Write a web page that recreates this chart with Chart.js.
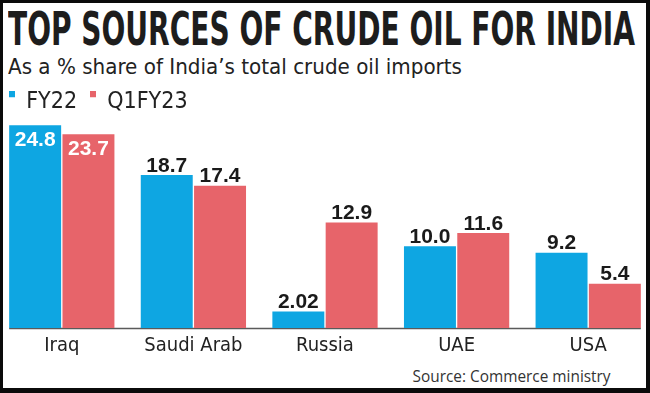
<!DOCTYPE html>
<html>
<head>
<meta charset="utf-8">
<script src="https://cdn.jsdelivr.net/npm/chart.js@4/dist/chart.umd.min.js"></script>
<style>
  html, body { margin: 0; padding: 0; }
  body { width: 650px; height: 393px; background: #0b0b0b; position: relative; overflow: hidden; }
  #panel { position: absolute; left: 3px; top: 3px; width: 643px; height: 385px; background: #ffffff; }
  .txt { position: absolute; white-space: nowrap; line-height: 1; color: #1d1d1d; }
  #title { left: 8px; top: 5.6px; font-family: 'Liberation Sans Narrow', 'DejaVu Sans Condensed', sans-serif; font-weight: bold; font-size: 46.5px; transform-origin: left top; }
  #subtitle { left: 8px; top: 56.4px; font-family: 'Liberation Sans Narrow', 'DejaVu Sans Condensed', sans-serif; font-size: 22px; transform-origin: left top; color: #222; }
  #source { right: 39px; top: 369.2px; font-family: 'Open Sans', 'Noto Sans', sans-serif; font-size: 15.5px; transform-origin: right top; color: #333; }
  #wrap { position: absolute; left: -4px; top: 78px; width: 658px; height: 315px; }
</style>
</head>
<body>
<div id="panel"></div>
<div id="title" class="txt" data-w="627">TOP SOURCES OF CRUDE OIL FOR INDIA</div>
<div id="subtitle" class="txt" data-w="454">As a % share of India’s total crude oil imports</div>
<div id="source" class="txt" data-w="198">Source: Commerce ministry</div>
<div id="wrap"><canvas id="c"></canvas></div>
<script>
// ---- data ----
const categories = ['Iraq', 'Saudi Arab', 'Russia', 'UAE', 'USA'];
const seriesNames = ['FY22', 'Q1FY23'];
const fy22 = [24.8, 18.7, 2.02, 10.0, 9.2];
const q1fy23 = [23.7, 17.4, 12.9, 11.6, 5.4];
const fy22Labels = ['24.8', '18.7', '2.02', '10.0', '9.2'];
const q1fy23Labels = ['23.7', '17.4', '12.9', '11.6', '5.4'];

// ---- styles ----
const BLUE = '#0ea6e2';
const RED = '#e7646a';
const narrow = "'Liberation Sans Narrow', 'DejaVu Sans Condensed', sans-serif";

// fit HTML text widths
document.querySelectorAll('[data-w]').forEach(el => {
  const w = el.getBoundingClientRect().width;
  const target = parseFloat(el.dataset.w);
  el.style.transform = 'scaleX(' + (target / w) + ')';
});

function makeIcon(color) {
  const cv = document.createElement('canvas');
  cv.width = 6; cv.height = 22;
  const c = cv.getContext('2d');
  c.fillStyle = color;
  c.fillRect(0, 0, 6, 6);
  return cv;
}
const icons = [makeIcon(BLUE), makeIcon(RED)];
const valueLabels = [fy22Labels, q1fy23Labels];

const legendHeightPlugin = {
  id: 'legendHeight',
  beforeInit(chart) {
    const lg = chart.legend;
    if (lg && !lg._patched) {
      const orig = lg.fit;
      lg.fit = function () { orig.call(this); this.height = 45.5; };
      lg._patched = true;
    }
  }
};

const valueLabelPlugin = {
  id: 'valueLabels',
  afterDatasetsDraw(chart) {
    const ctx = chart.ctx;
    ctx.save();
    ctx.font = "bold 21px 'Liberation Sans', Arial, sans-serif";
    ctx.textAlign = 'center';
    ctx.textBaseline = 'alphabetic';
    chart.data.datasets.forEach((ds, di) => {
      const meta = chart.getDatasetMeta(di);
      meta.data.forEach((bar, i) => {
        const v = ds.data[i];
        const txt = valueLabels[di][i];
        if (v > 20) {
          ctx.fillStyle = '#ffffff';
          ctx.fillText(txt, bar.x, bar.y + 21);
        } else {
          ctx.fillStyle = '#1a1a1a';
          ctx.fillText(txt, bar.x, bar.y - 3.5);
        }
      });
    });
    ctx.restore();
  }
};

const axisLinePlugin = {
  id: 'axisLine',
  beforeDatasetsDraw(chart) {
    const first = chart.getDatasetMeta(0).data[0];
    const lastMeta = chart.getDatasetMeta(chart.data.datasets.length - 1);
    const last = lastMeta.data[lastMeta.data.length - 1];
    const y = chart.scales.y.getPixelForValue(0);
    const ctx = chart.ctx;
    ctx.save();
    ctx.strokeStyle = '#5a5a5a';
    ctx.lineWidth = 1.5;
    ctx.beginPath();
    ctx.moveTo(first.x - first.width / 2, y + 0.5);
    ctx.lineTo(last.x + last.width / 2, y + 0.5);
    ctx.stroke();
    ctx.restore();
  }
};

new Chart(document.getElementById('c'), {
  type: 'bar',
  data: {
    labels: categories,
    datasets: [
      { label: seriesNames[0], data: fy22, backgroundColor: BLUE },
      { label: seriesNames[1], data: q1fy23, backgroundColor: RED }
    ]
  },
  options: {
    responsive: true,
    maintainAspectRatio: false,
    animation: false,
    layout: { padding: { top: 0, left: 0, right: 0, bottom: 35 } },
    categoryPercentage: 0.81,
    barPercentage: 0.975,
    plugins: {
      legend: {
        display: true,
        position: 'top',
        align: 'start',
        labels: {
          usePointStyle: true,
          boxWidth: 6,
          boxHeight: 6,
          padding: 12.7,
          color: '#222',
          font: { family: narrow, size: 23 },
          generateLabels(chart) {
            return chart.data.datasets.map((ds, i) => ({
              text: ds.label,
              pointStyle: icons[i],
              fillStyle: ds.backgroundColor,
              strokeStyle: 'rgba(0,0,0,0)',
              lineWidth: 0,
              hidden: false,
              datasetIndex: i,
              fontColor: '#222'
            }));
          }
        }
      },
      tooltip: { enabled: false }
    },
    scales: {
      x: {
        grid: { display: false, drawTicks: false },
        border: { display: false },
        ticks: { color: '#222', padding: 6, font: { family: narrow, size: 20 } },
        afterFit(s) { s.height = 30; }
      },
      y: { display: false, min: 0, max: 25 }
    }
  },
  plugins: [legendHeightPlugin, valueLabelPlugin, axisLinePlugin]
});
</script>
</body>
</html>
